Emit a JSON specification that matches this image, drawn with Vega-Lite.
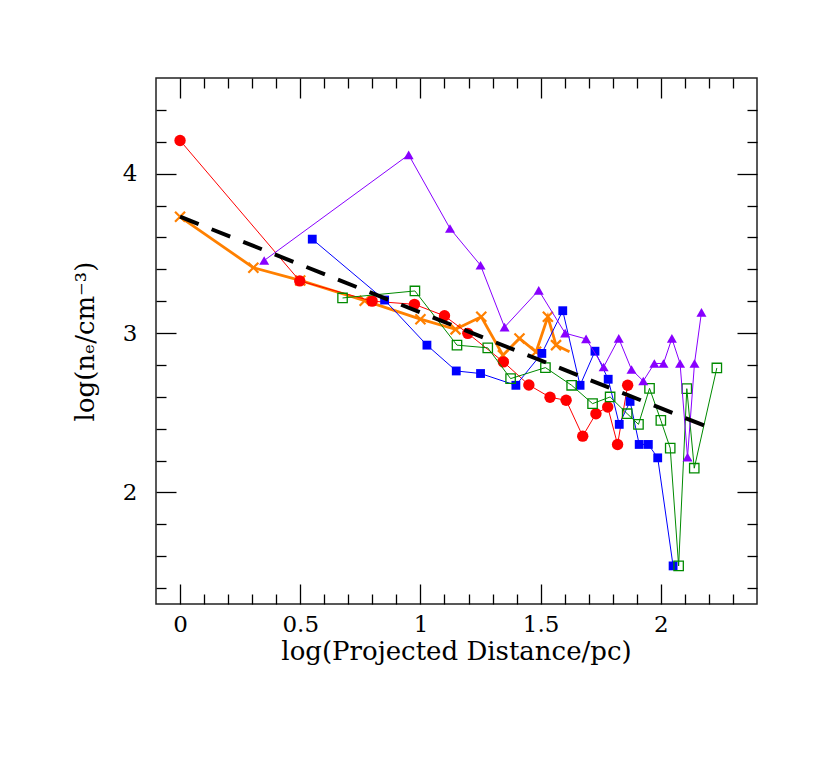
{
  "$schema": "https://vega.github.io/schema/vega-lite/v6.json",
  "autosize": {"type": "none"},
  "padding": {"left": 156, "top": 78, "right": 73, "bottom": 161},
  "width": 601,
  "height": 526,
  "background": "white",
  "config": {
    "view": {"stroke": "#222", "strokeWidth": 1.5},
    "axis": {
      "grid": false, "domain": false, "tickColor": "black", "tickWidth": 1.3,
      "labelFont": "DejaVu Serif", "labelFontSize": 23, "labelColor": "black",
      "titleFont": "DejaVu Serif", "titleFontSize": 26, "titleFontWeight": "normal", "titleColor": "black"
    }
  },
  "datasets": {
    "obs": [
      {"series": "A", "x": 0.0, "y": 4.208},
      {"series": "A", "x": 0.498, "y": 3.327},
      {"series": "A", "x": 0.799, "y": 3.200},
      {"series": "A", "x": 0.975, "y": 3.180},
      {"series": "A", "x": 1.100, "y": 3.108},
      {"series": "A", "x": 1.197, "y": 2.998},
      {"series": "A", "x": 1.345, "y": 2.819},
      {"series": "A", "x": 1.451, "y": 2.674},
      {"series": "A", "x": 1.539, "y": 2.597},
      {"series": "A", "x": 1.606, "y": 2.578},
      {"series": "A", "x": 1.675, "y": 2.353},
      {"series": "A", "x": 1.730, "y": 2.494},
      {"series": "A", "x": 1.779, "y": 2.536},
      {"series": "A", "x": 1.820, "y": 2.301},
      {"series": "A", "x": 1.862, "y": 2.672},
      {"series": "B", "x": 0.550, "y": 3.589},
      {"series": "B", "x": 0.851, "y": 3.207},
      {"series": "B", "x": 1.027, "y": 2.924},
      {"series": "B", "x": 1.149, "y": 2.762},
      {"series": "B", "x": 1.250, "y": 2.746},
      {"series": "B", "x": 1.397, "y": 2.672},
      {"series": "B", "x": 1.505, "y": 2.872},
      {"series": "B", "x": 1.592, "y": 3.140},
      {"series": "B", "x": 1.664, "y": 2.672},
      {"series": "B", "x": 1.726, "y": 2.886},
      {"series": "B", "x": 1.781, "y": 2.710},
      {"series": "B", "x": 1.827, "y": 2.427},
      {"series": "B", "x": 1.872, "y": 2.571},
      {"series": "B", "x": 1.910, "y": 2.301},
      {"series": "B", "x": 1.948, "y": 2.301},
      {"series": "B", "x": 1.987, "y": 2.217},
      {"series": "B", "x": 2.051, "y": 1.539},
      {"series": "C", "x": 0.676, "y": 3.220},
      {"series": "C", "x": 0.977, "y": 3.264},
      {"series": "C", "x": 1.152, "y": 2.924},
      {"series": "C", "x": 1.280, "y": 2.907},
      {"series": "C", "x": 1.375, "y": 2.714},
      {"series": "C", "x": 1.520, "y": 2.783},
      {"series": "C", "x": 1.629, "y": 2.672},
      {"series": "C", "x": 1.716, "y": 2.557},
      {"series": "C", "x": 1.789, "y": 2.599},
      {"series": "C", "x": 1.860, "y": 2.494},
      {"series": "C", "x": 1.907, "y": 2.427},
      {"series": "C", "x": 1.953, "y": 2.653},
      {"series": "C", "x": 2.000, "y": 2.452},
      {"series": "C", "x": 2.039, "y": 2.278},
      {"series": "C", "x": 2.074, "y": 1.539},
      {"series": "C", "x": 2.108, "y": 2.651},
      {"series": "C", "x": 2.139, "y": 2.152},
      {"series": "C", "x": 2.233, "y": 2.781},
      {"series": "D", "x": 0.350, "y": 3.455},
      {"series": "D", "x": 0.951, "y": 4.118},
      {"series": "D", "x": 1.123, "y": 3.656},
      {"series": "D", "x": 1.250, "y": 3.425},
      {"series": "D", "x": 1.350, "y": 3.037},
      {"series": "D", "x": 1.492, "y": 3.268},
      {"series": "D", "x": 1.602, "y": 2.999},
      {"series": "D", "x": 1.689, "y": 2.963},
      {"series": "D", "x": 1.762, "y": 2.787},
      {"series": "D", "x": 1.825, "y": 2.966},
      {"series": "D", "x": 1.878, "y": 2.771},
      {"series": "D", "x": 1.927, "y": 2.699},
      {"series": "D", "x": 1.973, "y": 2.809},
      {"series": "D", "x": 2.011, "y": 2.809},
      {"series": "D", "x": 2.046, "y": 2.966},
      {"series": "D", "x": 2.080, "y": 2.809},
      {"series": "D", "x": 2.111, "y": 2.221},
      {"series": "D", "x": 2.140, "y": 2.809},
      {"series": "D", "x": 2.169, "y": 3.130},
      {"series": "E", "x": 0.0, "y": 3.729},
      {"series": "E", "x": 0.305, "y": 3.410},
      {"series": "E", "x": 0.500, "y": 3.330},
      {"series": "E", "x": 0.768, "y": 3.203},
      {"series": "E", "x": 1.000, "y": 3.087},
      {"series": "E", "x": 1.146, "y": 3.023},
      {"series": "E", "x": 1.253, "y": 3.102},
      {"series": "E", "x": 1.343, "y": 2.861},
      {"series": "E", "x": 1.412, "y": 2.966},
      {"series": "E", "x": 1.481, "y": 2.882},
      {"series": "E", "x": 1.530, "y": 3.102},
      {"series": "E", "x": 1.564, "y": 2.924},
      {"series": "E", "x": 1.620, "y": 2.882}
    ],
    "fit": [
      {"x": 0.0, "y": 3.73},
      {"x": 2.23, "y": 2.39}
    ]
  },
  "resolve": {"axis": {"x": "independent", "y": "independent"}},
  "layer": [
    {
      "data": {"name": "obs"},
      "transform": [{"filter": "datum.series === 'E'"}],
      "mark": {"type": "line", "color": "#ff8000", "strokeWidth": 2.8},
      "encoding": {
        "x": {"field": "x", "type": "quantitative", "scale": {"domain": [-0.1, 2.4], "nice": false, "zero": false},
          "axis": {"orient": "bottom", "values": [0, 0.5, 1, 1.5, 2], "format": "~g", "offset": -20, "tickSize": 20, "labelPadding": 9,
            "title": "log(Projected Distance/pc)", "titleX": 300, "titleY": 67, "titleAlign": "center", "titleBaseline": "middle"}},
        "y": {"field": "y", "type": "quantitative", "scale": {"domain": [1.3, 4.6], "nice": false, "zero": false},
          "axis": {"orient": "left", "values": [2, 3, 4], "format": "~g", "offset": -20, "tickSize": 20, "labelPadding": 19,
            "title": "log(nₑ/cm⁻³)", "titleX": -91, "titleY": 263, "titleAngle": -90, "titleAlign": "center", "titleBaseline": "middle"}},
        "order": {"field": "x"}
      }
    },
    {
      "data": {"name": "obs"},
      "transform": [{"filter": "datum.series === 'E' && datum.x < 1.6"}],
      "mark": {"type": "point", "shape": "M-1,-1L1,1M-1,1L1,-1", "filled": false, "stroke": "#ff8000", "strokeWidth": 2.2, "size": 100, "opacity": 1},
      "encoding": {
        "x": {"field": "x", "type": "quantitative", "scale": {"domain": [-0.1, 2.4], "nice": false, "zero": false},
          "axis": {"orient": "bottom", "values": [0.1, 0.2, 0.3, 0.4, 0.6, 0.7, 0.8, 0.9, 1.1, 1.2, 1.3, 1.4, 1.6, 1.7, 1.8, 1.9, 2.1, 2.2, 2.3], "offset": -10, "tickSize": 10, "labels": false, "title": null}},
        "y": {"field": "y", "type": "quantitative", "scale": {"domain": [1.3, 4.6], "nice": false, "zero": false},
          "axis": {"orient": "left", "values": [1.4, 1.6, 1.8, 2.2, 2.4, 2.6, 2.8, 3.2, 3.4, 3.6, 3.8, 4.2, 4.4], "offset": -10, "tickSize": 10, "labels": false, "title": null}}
      }
    },
    {
      "data": {"name": "obs"},
      "transform": [{"filter": "datum.series === 'A'"}],
      "mark": {"type": "line", "color": "#ff0000", "strokeWidth": 1},
      "encoding": {
        "x": {"field": "x", "type": "quantitative", "scale": {"domain": [-0.1, 2.4], "nice": false, "zero": false},
          "axis": {"orient": "top", "values": [0, 0.5, 1, 1.5, 2], "offset": -20, "tickSize": 20, "labels": false, "title": null}},
        "y": {"field": "y", "type": "quantitative", "scale": {"domain": [1.3, 4.6], "nice": false, "zero": false},
          "axis": {"orient": "right", "values": [2, 3, 4], "offset": -20, "tickSize": 20, "labels": false, "title": null}},
        "order": {"field": "x"}
      }
    },
    {
      "data": {"name": "obs"},
      "transform": [{"filter": "datum.series === 'A'"}],
      "mark": {"type": "point", "shape": "circle", "filled": true, "color": "#ff0000", "size": 130, "opacity": 1},
      "encoding": {
        "x": {"field": "x", "type": "quantitative", "scale": {"domain": [-0.1, 2.4], "nice": false, "zero": false},
          "axis": {"orient": "top", "values": [0.1, 0.2, 0.3, 0.4, 0.6, 0.7, 0.8, 0.9, 1.1, 1.2, 1.3, 1.4, 1.6, 1.7, 1.8, 1.9, 2.1, 2.2, 2.3], "offset": -10, "tickSize": 10, "labels": false, "title": null}},
        "y": {"field": "y", "type": "quantitative", "scale": {"domain": [1.3, 4.6], "nice": false, "zero": false},
          "axis": {"orient": "right", "values": [1.4, 1.6, 1.8, 2.2, 2.4, 2.6, 2.8, 3.2, 3.4, 3.6, 3.8, 4.2, 4.4], "offset": -10, "tickSize": 10, "labels": false, "title": null}}
      }
    },
    {
      "data": {"name": "obs"},
      "transform": [{"filter": "datum.series === 'B'"}],
      "mark": {"type": "line", "color": "#0000ff", "strokeWidth": 1},
      "encoding": {
        "x": {"field": "x", "type": "quantitative", "scale": {"domain": [-0.1, 2.4], "nice": false, "zero": false}, "axis": null},
        "y": {"field": "y", "type": "quantitative", "scale": {"domain": [1.3, 4.6], "nice": false, "zero": false}, "axis": null},
        "order": {"field": "x"}
      }
    },
    {
      "data": {"name": "obs"},
      "transform": [{"filter": "datum.series === 'B'"}],
      "mark": {"type": "point", "shape": "square", "filled": true, "color": "#0000ff", "size": 78, "opacity": 1},
      "encoding": {
        "x": {"field": "x", "type": "quantitative", "scale": {"domain": [-0.1, 2.4], "nice": false, "zero": false}, "axis": null},
        "y": {"field": "y", "type": "quantitative", "scale": {"domain": [1.3, 4.6], "nice": false, "zero": false}, "axis": null}
      }
    },
    {
      "data": {"name": "obs"},
      "transform": [{"filter": "datum.series === 'C'"}],
      "mark": {"type": "line", "color": "#008a00", "strokeWidth": 1},
      "encoding": {
        "x": {"field": "x", "type": "quantitative", "scale": {"domain": [-0.1, 2.4], "nice": false, "zero": false}, "axis": null},
        "y": {"field": "y", "type": "quantitative", "scale": {"domain": [1.3, 4.6], "nice": false, "zero": false}, "axis": null},
        "order": {"field": "x"}
      }
    },
    {
      "data": {"name": "obs"},
      "transform": [{"filter": "datum.series === 'C'"}],
      "mark": {"type": "point", "shape": "square", "filled": false, "stroke": "#008a00", "fill": "white", "fillOpacity": 0, "strokeWidth": 1.3, "size": 88, "opacity": 1},
      "encoding": {
        "x": {"field": "x", "type": "quantitative", "scale": {"domain": [-0.1, 2.4], "nice": false, "zero": false}, "axis": null},
        "y": {"field": "y", "type": "quantitative", "scale": {"domain": [1.3, 4.6], "nice": false, "zero": false}, "axis": null}
      }
    },
    {
      "data": {"name": "obs"},
      "transform": [{"filter": "datum.series === 'D'"}],
      "mark": {"type": "line", "color": "#8800ff", "strokeWidth": 1},
      "encoding": {
        "x": {"field": "x", "type": "quantitative", "scale": {"domain": [-0.1, 2.4], "nice": false, "zero": false}, "axis": null},
        "y": {"field": "y", "type": "quantitative", "scale": {"domain": [1.3, 4.6], "nice": false, "zero": false}, "axis": null},
        "order": {"field": "x"}
      }
    },
    {
      "data": {"name": "obs"},
      "transform": [{"filter": "datum.series === 'D'"}],
      "mark": {"type": "point", "shape": "triangle-up", "filled": true, "color": "#8800ff", "size": 100, "opacity": 1},
      "encoding": {
        "x": {"field": "x", "type": "quantitative", "scale": {"domain": [-0.1, 2.4], "nice": false, "zero": false}, "axis": null},
        "y": {"field": "y", "type": "quantitative", "scale": {"domain": [1.3, 4.6], "nice": false, "zero": false}, "axis": null}
      }
    },
    {
      "data": {"name": "fit"},
      "mark": {"type": "line", "color": "black", "strokeWidth": 4, "strokeDash": [20, 14]},
      "encoding": {
        "x": {"field": "x", "type": "quantitative", "scale": {"domain": [-0.1, 2.4], "nice": false, "zero": false}, "axis": null},
        "y": {"field": "y", "type": "quantitative", "scale": {"domain": [1.3, 4.6], "nice": false, "zero": false}, "axis": null}
      }
    }
  ]
}
